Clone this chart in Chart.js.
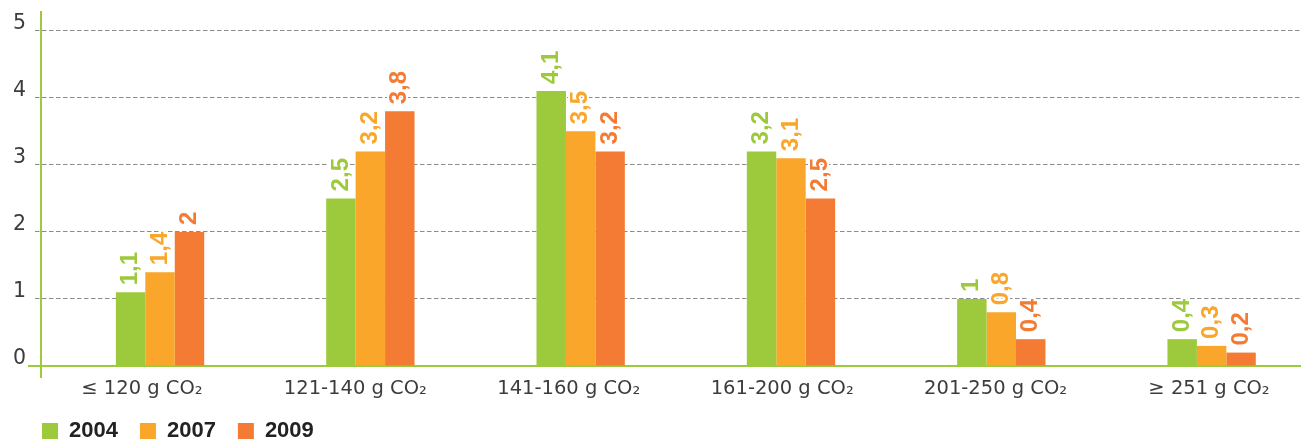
<!DOCTYPE html>
<html>
<head>
<meta charset="utf-8">
<script src="https://cdn.jsdelivr.net/npm/chart.js@4/dist/chart.umd.min.js"></script>
<style>
  html, body { margin: 0; padding: 0; background: #fff; }
  #wrap { width: 1301px; height: 441px; position: relative; }
</style>
</head>
<body>
<div id="wrap"><canvas id="c"></canvas></div>
<script>
// CO2 emission classes (g CO2 per km)
const categories = ['≤ 120 g CO₂', '121-140 g CO₂', '141-160 g CO₂', '161-200 g CO₂', '201-250 g CO₂', '≥ 251 g CO₂'];
const years = ['2004', '2007', '2009'];
const values2004 = [1.1, 2.5, 4.1, 3.2, 1, 0.4];
const values2007 = [1.4, 3.2, 3.5, 3.1, 0.8, 0.3];
const values2009 = [2, 3.8, 3.2, 2.5, 0.4, 0.2];
const yTicks = [0, 1, 2, 3, 4, 5];

const GREEN = '#9cca3c';
const ORANGE = '#f9a62b';
const RED = '#f37b34';
const GRID = '#8c8c8c';
const AXIS = '#9ccb3e';
const TEXT = '#3c3c3c';
const seriesColors = [GREEN, ORANGE, RED];
const series = [values2004, values2007, values2009];

const toPoints = vals => vals.map((v, i) => ({ x: i, y: v }));
const fmt = v => String(v).replace('.', ',');

// rotated value labels above each bar, with a white halo
const valueLabels = {
  id: 'valueLabels',
  afterDatasetsDraw(chart) {
    const ctx = chart.ctx;
    ctx.save();
    ctx.font = 'bold 24px "Liberation Sans", Arial, sans-serif';
    ctx.textAlign = 'left';
    ctx.textBaseline = 'middle';
    ctx.lineJoin = 'round';
    chart.data.datasets.forEach((ds, di) => {
      const meta = chart.getDatasetMeta(di);
      meta.data.forEach((bar, i) => {
        const txt = fmt(series[di][i]);
        ctx.save();
        ctx.translate(bar.x, bar.y - 7);
        ctx.rotate(-Math.PI / 2);
        ctx.strokeStyle = '#ffffff';
        ctx.lineWidth = 4;
        ctx.strokeText(txt, 0, 0);
        ctx.fillStyle = ds.backgroundColor;
        ctx.fillText(txt, 0, 0);
        ctx.restore();
      });
    });
    ctx.restore();
  }
};

// axis lines run a little past their crossing point
const axisStubs = {
  id: 'axisStubs',
  beforeDatasetsDraw(chart) {
    const ctx = chart.ctx;
    const ca = chart.chartArea;
    const yZero = chart.scales.x.top;
    ctx.save();
    ctx.strokeStyle = AXIS;
    ctx.lineWidth = 2;
    ctx.beginPath();
    ctx.moveTo(ca.left - 13, yZero);
    ctx.lineTo(ca.left, yZero);
    ctx.moveTo(ca.left, ca.bottom - 1);
    ctx.lineTo(ca.left, ca.bottom + 12);
    ctx.stroke();
    ctx.restore();
  }
};

// legend row starts in line with the y axis
const legendIndent = {
  id: 'legendIndent',
  afterLayout(chart) {
    if (chart.legend) { chart.legend.left += 20; }
  }
};

const gridColor = c => (c.tick && c.tick.value === 0 ? 'rgba(0,0,0,0)' : GRID);
const noPad = s => { s.paddingTop = 0; s.paddingBottom = 0; s.paddingLeft = 0; s.paddingRight = 0; };

new Chart(document.getElementById('c'), {
  type: 'bar',
  data: {
    datasets: years.map((yr, k) => ({
      label: yr,
      data: toPoints(series[k]),
      backgroundColor: seriesColors[k],
      borderWidth: 0,
      categoryPercentage: 0.42,
      barPercentage: 1.0,
      xAxisID: 'x',
      yAxisID: 'y'
    }))
  },
  options: {
    responsive: true,
    maintainAspectRatio: false,
    animation: false,
    events: [],
    layout: { padding: { top: 12, left: 0, right: 0, bottom: 0 } },
    scales: {
      x: {
        type: 'linear',
        axis: 'x',
        position: 'bottom',
        offset: false,
        min: -0.566,
        max: 5.425,
        ticks: { display: false, stepSize: 1, includeBounds: false },
        grid: { drawOnChartArea: false, drawTicks: false, offset: false },
        border: { display: true, color: AXIS, width: 2 },
        afterFit(s) { noPad(s); s.height = 0; }
      },
      x2: {
        type: 'linear',
        axis: 'x',
        position: 'bottom',
        offset: false,
        min: -0.473,
        max: 5.431,
        grid: { display: false, drawTicks: false, offset: false },
        border: { display: false },
        ticks: {
          stepSize: 1,
          includeBounds: false,
          autoSkip: false,
          maxRotation: 0,
          padding: 11,
          color: TEXT,
          font: { family: '"DejaVu Sans", "Liberation Sans", sans-serif', size: 19.5, weight: 'normal' },
          callback: v => (Number.isInteger(v) && categories[v] !== undefined ? categories[v] : '')
        },
        afterFit(s) { noPad(s); s.height = 32; }
      },
      y: {
        position: 'left',
        min: 0,
        max: 5.28,
        afterBuildTicks(s) { s.ticks = yTicks.map(v => ({ value: v })); },
        ticks: {
          includeBounds: false,
          padding: 9,
          labelOffset: -7.5,
          color: TEXT,
          font: { family: '"DejaVu Sans", "Liberation Sans", sans-serif', size: 20.5, weight: 'normal' }
        },
        grid: {
          color: gridColor,
          tickColor: gridColor,
          lineWidth: 1,
          tickLength: 6,
          tickBorderDash: [4.5, 2.5]
        },
        border: { display: true, color: AXIS, width: 2, dash: [4.5, 2.5] },
        afterFit(s) { noPad(s); s.width = 41; }
      }
    },
    plugins: {
      legend: {
        display: true,
        position: 'bottom',
        align: 'start',
        maxHeight: 43,
        labels: {
          boxWidth: 16,
          boxHeight: 16,
          padding: 22,
          color: '#222',
          font: { family: '"Liberation Sans", Arial, sans-serif', size: 22, weight: 'bold' }
        }
      },
      tooltip: { enabled: false },
      title: { display: false }
    }
  },
  plugins: [axisStubs, valueLabels, legendIndent]
});
</script>
</body>
</html>
